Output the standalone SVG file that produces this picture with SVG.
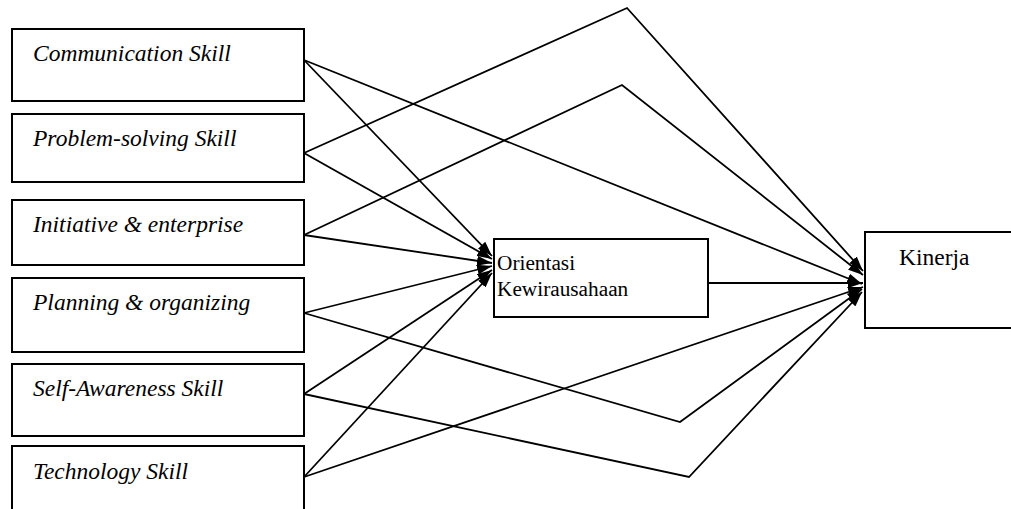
<svg xmlns="http://www.w3.org/2000/svg" width="1011" height="509" viewBox="0 0 1011 509">
<style>
.box{fill:#fff;stroke:#000;stroke-width:2}
.lbl{font-style:italic;font-size:23.5px;fill:#000}
.txt{fill:#000}
.con{fill:none;stroke:#000;stroke-width:1.8;marker-end:url(#ah)}
</style>
<defs>
<marker id="ah" markerUnits="userSpaceOnUse" markerWidth="15" markerHeight="10" refX="15" refY="5" orient="auto">
<path d="M0,0 L15,5 L0,10 z" fill="#000"/>
</marker>
</defs>
<rect width="1011" height="509" fill="#fff"/>
<g id="connectors">
<line class="con" x1="304" y1="60" x2="492" y2="256"/>
<line class="con" x1="304" y1="153" x2="492" y2="259"/>
<line class="con" x1="304" y1="235" x2="492" y2="263"/>
<line class="con" x1="304" y1="313" x2="492" y2="266"/>
<line class="con" x1="304" y1="394" x2="492" y2="270"/>
<line class="con" x1="304" y1="477" x2="492" y2="273"/>
<polyline class="con" points="304,153 627,8 863,271"/>
<polyline class="con" points="304,235 622,85 863,275"/>
<line class="con" x1="304" y1="60" x2="862" y2="284"/>
<line class="con" x1="708" y1="283" x2="863" y2="283"/>
<line class="con" x1="304" y1="477" x2="863" y2="287"/>
<polyline class="con" points="304,313 680,422 862,289"/>
<polyline class="con" points="304,394 689,477 862,292"/>
</g>
<g font-family="Liberation Serif, DejaVu Serif, serif">
<g id="n1"><rect class="box" x="12" y="29" width="292" height="72"/><text class="lbl" x="33" y="61">Communication Skill</text></g>
<g id="n2"><rect class="box" x="12" y="114" width="292" height="68"/><text class="lbl" x="33" y="146">Problem-solving Skill</text></g>
<g id="n3"><rect class="box" x="12" y="200" width="292" height="65"/><text class="lbl" x="33" y="232">Initiative &amp; enterprise</text></g>
<g id="n4"><rect class="box" x="12" y="278" width="292" height="74"/><text class="lbl" x="33" y="310">Planning &amp; organizing</text></g>
<g id="n5"><rect class="box" x="12" y="364" width="292" height="72"/><text class="lbl" x="33" y="396">Self-Awareness Skill</text></g>
<g id="n6"><rect class="box" x="12" y="446" width="292" height="80"/><text class="lbl" x="33" y="479">Technology Skill</text></g>
<g id="orientasi"><rect class="box" x="494" y="239" width="214" height="78"/><text class="txt" font-size="21.3" x="497" y="270">Orientasi</text><text class="txt" font-size="21.3" x="497" y="296">Kewirausahaan</text></g>
<g id="kinerja"><rect class="box" x="865" y="232" width="150" height="96"/><text class="txt" font-size="23.5" x="899" y="265">Kinerja</text></g>
</g>
</svg>
